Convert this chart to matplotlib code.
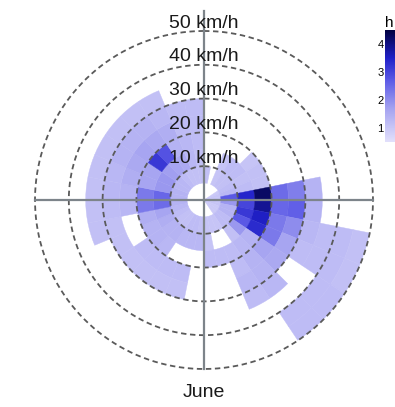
import numpy as np
import matplotlib
matplotlib.use("Agg")
from matplotlib import pyplot as plt
from matplotlib.colors import LinearSegmentedColormap, Normalize

# wind rose for June: hours per direction sector (11.25 deg) and speed bin (5 km/h)
speed_edges = [0, 5, 10, 15, 20, 25, 30, 35, 40, 45, 50]
ring_labels = [10, 20, 30, 40, 50]
month = "June"

# rows = sectors clockwise from north, cols = speed bins
hours_ne = [
    [0, 0.7, 0, 0, 0, 0, 0, 0, 0, 0],
    [0, 0, 0, 0, 0, 0, 0, 0, 0, 0],
    [0, 0.6, 0.6, 0, 0, 0, 0, 0, 0, 0],
    [0, 0.7, 0.8, 0, 0, 0, 0, 0, 0, 0],
    [0, 0.7, 0.8, 0.6, 0, 0, 0, 0, 0, 0],
    [0.5, 0.8, 0.7, 0.7, 0, 0, 0, 0, 0, 0],
    [0.6, 0.9, 0.8, 0.7, 0, 0, 0, 0, 0, 0],
    [0.6, 2.5, 3.3, 4.2, 2.2, 1.9, 1.0, 0, 0, 0],
]
hours_se = [
    [0.6, 1.5, 2.8, 3.8, 2.3, 2.4, 1.0, 0, 0, 0],
    [0.6, 1.0, 3.0, 3.4, 2.0, 1.7, 0.9, 0.8, 0.8, 0.7],
    [0.5, 1.0, 2.5, 3.2, 2.0, 1.3, 0.8, 0.8, 0.8, 0.7],
    [0.5, 0.8, 1.5, 1.0, 1.3, 1.2, 0, 0, 0.8, 0.8],
    [0.5, 0.8, 0.7, 0.9, 1.0, 1.0, 0.9, 0, 0.8, 0.8],
    [0, 0.6, 0, 0.8, 0.8, 0.9, 0.8, 0, 0, 0],
    [0, 0.6, 0, 0.8, 0, 0, 0, 0, 0, 0],
    [0, 0.6, 0.6, 0.8, 0, 0, 0, 0, 0, 0],
]
hours_sw = [
    [0, 0.7, 0.9, 0, 0, 0, 0, 0, 0, 0],
    [0, 0.8, 0.9, 0, 0.8, 0.7, 0, 0, 0, 0],
    [0, 0.8, 0.9, 0, 0.8, 0.7, 0, 0, 0, 0],
    [0, 0.7, 1.0, 0.9, 0.8, 0.7, 0, 0, 0, 0],
    [0, 0.7, 1.0, 1.0, 0.8, 0.7, 0, 0, 0, 0],
    [0, 0.8, 1.1, 1.0, 0, 0.7, 0, 0, 0, 0],
    [0, 0.9, 1.3, 1.1, 0, 0.7, 0.7, 0, 0, 0],
    [0, 1.0, 2.2, 2.0, 0.9, 0.8, 0.7, 0, 0, 0],
]
hours_nw = [
    [0, 1.0, 2.3, 2.0, 1.0, 0.9, 0.7, 0, 0, 0],
    [0, 1.0, 1.5, 1.3, 1.1, 0.9, 0.7, 0, 0, 0],
    [0, 0.9, 1.5, 1.3, 1.2, 1.0, 0.7, 0, 0, 0],
    [0, 0.9, 1.4, 3.0, 1.3, 1.0, 0.7, 0, 0, 0],
    [0, 0.8, 1.3, 2.6, 1.2, 1.0, 0.7, 0, 0, 0],
    [0, 0.7, 1.2, 1.0, 1.1, 0.9, 0.7, 0, 0, 0],
    [0, 0.7, 0.9, 0.9, 0.8, 0.8, 0, 0, 0, 0],
    [0, 0.7, 0.7, 0.8, 0.8, 0.8, 0, 0, 0, 0],
]
cbar_ticks = [1, 2, 3, 4]

hours = np.array(hours_ne + hours_se + hours_sw + hours_nw)
n_sec = hours.shape[0]
width = 2 * np.pi / n_sec
theta_left = np.arange(n_sec) * width

cmap = LinearSegmentedColormap.from_list("wind", [
    (0.0, "#e2e0fb"), (0.3, "#a4a2f0"), (0.55, "#5c5ae6"),
    (0.75, "#2020c8"), (1.0, "#000040")])
norm = Normalize(vmin=0, vmax=4.5)

plt.rcParams['font.family'] = ['Liberation Sans', 'DejaVu Sans']
fig = plt.figure(figsize=(3.95, 4.07), dpi=100)
ax = fig.add_axes([0.0886, 0.0934, 0.8557, 0.8305], projection='polar')
ax.set_theta_zero_location('N')
ax.set_theta_direction(-1)
ax.set_ylim(0, 50)
ax.axis('off')

for j in range(n_sec):
    for k in range(len(speed_edges) - 1):
        v = hours[j, k]
        if v <= 0:
            continue
        c = cmap(norm(v))
        ax.bar(theta_left[j], speed_edges[k + 1] - speed_edges[k], width=width,
               bottom=speed_edges[k], align='edge', color=c, edgecolor=c,
               linewidth=0.3, zorder=1)

# dashed speed rings
tt = np.linspace(0, 2 * np.pi, 500)
for r in ring_labels:
    ax.plot(tt, np.full_like(tt, r), ls=(0, (3, 2)), color='#5a5a5a', lw=1.3,
            zorder=2, clip_on=False)

# cross
axis_col = '#7d848a'
ax.plot([0, 0], [0, 56], color=axis_col, lw=1.6, zorder=3, clip_on=False)
for a in [np.pi / 2, np.pi, 3 * np.pi / 2]:
    ax.plot([a, a], [0, 50], color=axis_col, lw=1.6, zorder=3, clip_on=False)

for r in ring_labels:
    ax.text(0, r + 1.0, f"{r} km/h", ha='center', va='baseline', fontsize=14,
            color='#1a1a1a', zorder=4)
ax.text(np.pi, 58.2, month, ha='center', va='baseline', fontsize=14,
        color='#1a1a1a')

# colorbar, partly off the canvas like the original
cax = fig.add_axes([385 / 395, 1 - 142 / 407, 0.045, 112 / 407])
sm = plt.cm.ScalarMappable(norm=Normalize(vmin=0.5, vmax=4.5), cmap=cmap)
cb = fig.colorbar(sm, cax=cax)
cb.outline.set_visible(False)
cax.yaxis.set_ticks_position('left')
cax.set_yticks(cbar_ticks)
cax.tick_params(length=0, labelsize=8, pad=1)
cax.set_title("h", fontsize=11, loc='left', pad=2)

fig.savefig("out.png", dpi=100)
